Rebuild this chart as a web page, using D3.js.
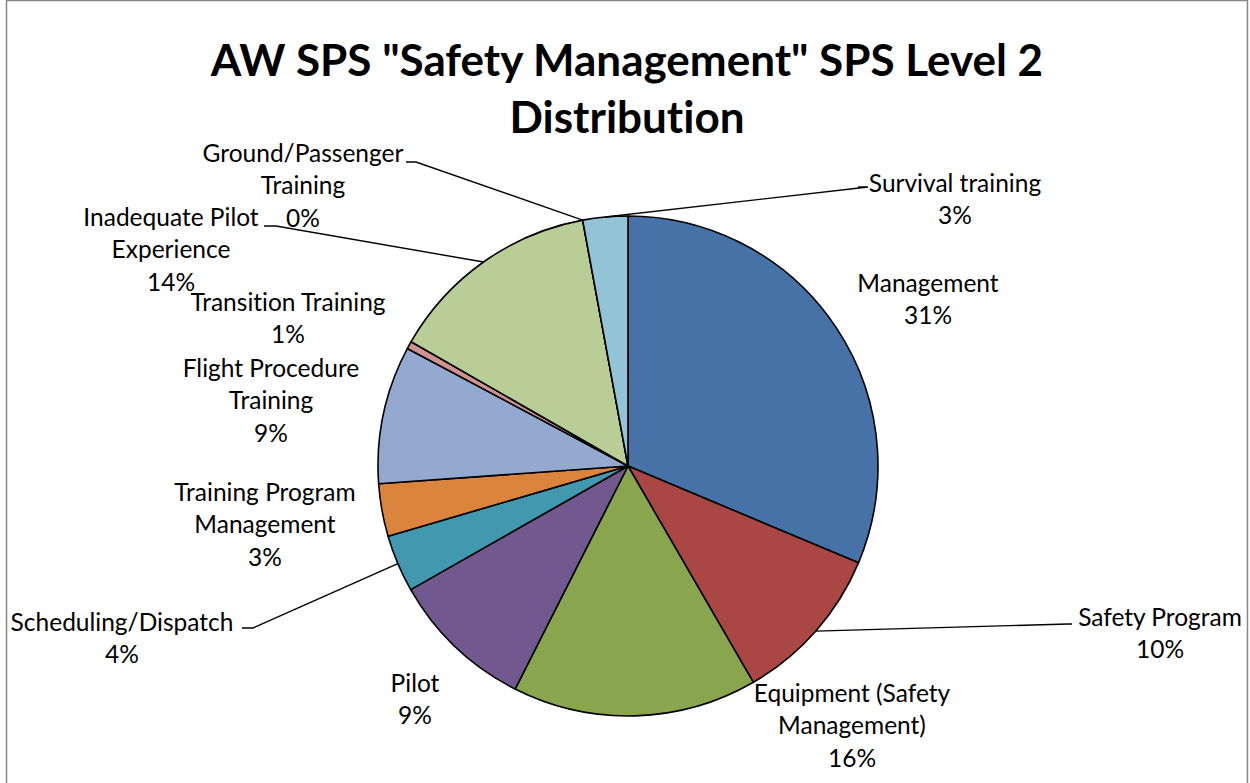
<!DOCTYPE html>
<html lang="en">
    <head>
        <meta charset="utf-8">
        <title>AW SPS "Safety Management" SPS Level 2 Distribution</title>
        <script src="https://d3js.org/d3.v7.min.js"></script>
        <style type="text/css">
        body { margin: 0; background: #fff; }

        text {
            font-variant-ligatures: none;
        }

        .title {
            font-size: 44px;
            font-weight: bold;
            font-family: Lato, "Open Sans", sans-serif;
        }

        .label {
            font-size: 24.5px;
            font-family: Lato, "Open Sans", sans-serif;
            fill: #000;
        }

        .leader {
            fill: none;
            stroke: #000;
            stroke-width: 1.4;
        }
        </style>
    </head>
    <body>
    <div id="vis"></div>

    <script type="text/javascript">

        const width = 1250;
        const height = 783;
        const radius = 250;
        const cx = 628, cy = 466;

        // categories, clockwise from 12 o'clock
        const categories = ["Management", "Safety Program", "Equipment (Safety Management)", "Pilot",
                            "Scheduling/Dispatch", "Training Program Management", "Flight Procedure Training",
                            "Transition Training", "Inadequate Pilot Experience", "Ground/Passenger Training",
                            "Survival training"];
        // share of total, percent
        const values = [31.3, 10.3, 15.8, 9.3, 3.7, 3.4, 8.9, 0.5, 13.8, 0, 2.9];
        // how Excel wrapped each label
        const labelLines = [["Management"], ["Safety Program"], ["Equipment (Safety", "Management)"], ["Pilot"],
                            ["Scheduling/Dispatch"], ["Training Program", "Management"], ["Flight Procedure", "Training"],
                            ["Transition Training"], ["Inadequate Pilot", "Experience"], ["Ground/Passenger", "Training"],
                            ["Survival training"]];

        const colors = ["#4672a8", "#aa4643", "#89a54e", "#71588f", "#4198af", "#db843d",
                        "#93a9cf", "#d19392", "#b9cd96", "#a99bbd", "#92c3d6"];

        // label placement (centre x, first line y), leader elbow + end where Excel drew one
        const labelPos = [
            {x: 928, y: 283},
            {x: 1160, y: 617, elbow: [1068, 624], end: [1072, 624]},
            {x: 852, y: 693},
            {x: 415, y: 683},
            {x: 122, y: 622, elbow: [253, 628], end: [242, 628]},
            {x: 265, y: 492},
            {x: 271, y: 368},
            {x: 288, y: 302},
            {x: 171, y: 217, elbow: [276, 226], end: [264, 226]},
            {x: 303, y: 153, elbow: [416, 162], end: [406, 162]},
            {x: 955, y: 183, elbow: [868, 187], end: [858, 187]}
        ];

        const dataset = categories.map((c, i) => ({name: c, value: values[i], lines: labelLines[i]}));

        const svg = d3.select("#vis")
                      .append("svg")
                      .attr("width", width)
                      .attr("height", height);

        // chart area border
        svg.append("rect")
           .attr("x", 6.5).attr("y", 0.5)
           .attr("width", 1241).attr("height", 800)
           .attr("fill", "#fff")
           .attr("stroke", "#868686")
           .attr("stroke-width", 1.5);

        svg.append("text")
           .attr("class", "title")
           .attr("x", 627).attr("y", 76)
           .attr("text-anchor", "middle")
           .text('AW SPS "Safety Management" SPS Level 2');

        svg.append("text")
           .attr("class", "title")
           .attr("x", 627).attr("y", 133)
           .attr("text-anchor", "middle")
           .text("Distribution");

        const pie = d3.pie().sort(null).value(d => d.value);
        const arc = d3.arc().innerRadius(0).outerRadius(radius);
        const arcs = pie(dataset);

        const g = svg.append("g").attr("transform", "translate(" + cx + "," + cy + ")");

        g.selectAll(".slice")
         .data(arcs)
         .enter()
         .append("path")
         .attr("class", "slice")
         .attr("d", arc)
         .attr("fill", (d, i) => colors[i])
         .attr("stroke", "#000")
         .attr("stroke-width", 1.6)
         .attr("stroke-linejoin", "round");

        // leader lines: from the slice's outer edge to the label
        arcs.forEach((d, i) => {
            const p = labelPos[i];
            if (!p.elbow) return;
            const a = (d.startAngle + d.endAngle) / 2;
            const sx = cx + radius * Math.sin(a);
            const sy = cy - radius * Math.cos(a);
            svg.append("path")
               .attr("class", "leader")
               .attr("d", d3.line()([[sx, sy], p.elbow, p.end]));
        });

        arcs.forEach((d, i) => {
            const p = labelPos[i];
            const lines = d.data.lines.concat([Math.round(d.data.value) + "%"]);
            const t = svg.append("text")
                         .attr("class", "label")
                         .attr("text-anchor", "middle");
            lines.forEach((l, k) => {
                t.append("tspan")
                 .attr("x", p.x)
                 .attr("y", p.y + k * 32.5)
                 .attr("dy", "0.35em")
                 .text(l);
            });
        });

    </script>
    </body>
</html>
